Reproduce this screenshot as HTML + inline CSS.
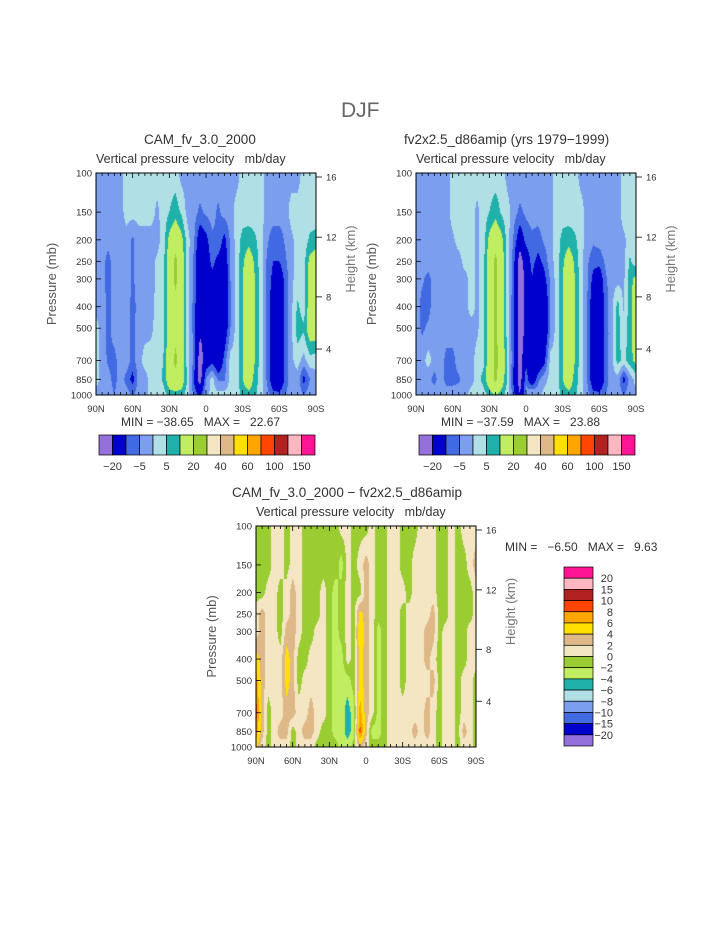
<!DOCTYPE html>
<html><head><meta charset="utf-8">
<style>
html,body{margin:0;padding:0;background:#fff;}
#root{position:relative;width:723px;height:935px;overflow:hidden;font-family:"Liberation Sans",sans-serif;color:#333;}
.t{position:absolute;white-space:nowrap;line-height:1;}
canvas{position:absolute;}
svg{position:absolute;left:0;top:0;}
</style></head>
<body>
<div id="root">
<div class="t" style="left:341px;top:100px;font-size:21px;color:#666;">DJF</div>

<div class="t" style="left:144px;top:133px;font-size:13.5px;">CAM_fv_3.0_2000</div>
<div class="t" style="left:96px;top:153px;font-size:12.5px;">Vertical pressure velocity &nbsp;&nbsp;mb/day</div>
<div class="t" style="left:404px;top:133px;font-size:13.5px;">fv2x2.5_d86amip (yrs 1979−1999)</div>
<div class="t" style="left:416px;top:153px;font-size:12.5px;">Vertical pressure velocity &nbsp;&nbsp;mb/day</div>
<div class="t" style="left:121px;top:416px;font-size:12px;">MIN = −38.65 &nbsp;&nbsp;MAX = &nbsp;&nbsp;22.67</div>
<div class="t" style="left:441px;top:416px;font-size:12px;">MIN = −37.59 &nbsp;&nbsp;MAX = &nbsp;&nbsp;23.88</div>
<div class="t" style="left:232px;top:486px;font-size:13.5px;">CAM_fv_3.0_2000 − fv2x2.5_d86amip</div>
<div class="t" style="left:256px;top:506px;font-size:12.5px;">Vertical pressure velocity &nbsp;&nbsp;mb/day</div>
<div class="t" style="left:505px;top:541px;font-size:12px;">MIN = &nbsp;&nbsp;−6.50 &nbsp;&nbsp;MAX = &nbsp;&nbsp;9.63</div>

<canvas id="c1" width="220" height="222" style="left:96px;top:173px;"></canvas>
<canvas id="c2" width="220" height="222" style="left:416px;top:173px;"></canvas>
<canvas id="c3" width="220" height="221" style="left:256px;top:526px;"></canvas>
<svg id="ov" width="723" height="935"></svg>
</div>
<script>
const levels=[100,150,200,250,300,400,500,700,850,1000];
const latLabels=["90N","60N","30N","0","30S","60S","90S"];
const pTicks=[100,150,200,250,300,400,500,700,850,1000];
const hTicks=[16,12,8,4];
const cbColors=["#9370DB","#0000CD","#4169E1","#7B9EEE","#B0E0E6","#20B2AA","#C0EE60","#9ACD32","#F5E6C3","#DEB887","#FFE000","#FFA500","#FF4500","#B22222","#FFB6C1","#FF1493"];
const bnd1=[-20,-10,-5,0,5,10,20,30,40,50,60,80,100,120,150];
const cb1Labels=["−20","−5","5","20","40","60","100","150"];
const bnd3=[-20,-15,-10,-8,-6,-4,-2,0,2,4,6,8,10,15,20];
const cb3Labels=["20","15","10","8","6","4","2","0","−2","−4","−6","−8","−10","−15","−20"];

const p1=[
[-2,-2,-2,-2,-2,2,2,2,2,2,2,2,2,2,-2,-2,-2,-2,-2,-2,-2,-2,-2,-2,2,2,2,2,-2,-2,-2,-2,-2,-2,2,2,2],
[-2,-2,-2,-2,-2,2,2,2,2,2,-1,2,5,8,4,-2,-3,-6,-4,-3,-6,-3,-2,2,2,2,2,2,-2,-2,-2,-2,2,2,2,2,2],
[-2,-2,-3,-2,-2,-2,-6,-2,-2,-2,-2,2,12,16,12,2,-4,-15,-12,-6,-6,-12,-4,2,7,8,6,2,-4,-8,-8,-4,-1,2,2,6,7],
[-2,-3,-7,-2,-2,-2,-6,-2,-2,-2,1,3,15,22,15,2,-6,-18,-15,-8,-12,-15,-5,2,9,14,9,2,-6,-10,-10,-6,-1,2,3,12,14],
[-2,-3,-7,-2,-2,-2,-6,-2,-2,-2,1,3,15,22,15,2,-6,-18,-18,-12,-18,-18,-5,2,10,15,10,2,-6,-12,-15,-8,-1,2,3,14,15],
[-2,-2,-7,-2,-2,-2,-7,-3,-2,-2,2,3,15,17,15,2,-7,-18,-19,-18,-18,-16,-6,2,10,15,10,2,-6,-15,-18,-8,-1,6,2,15,15],
[2,-2,-7,-2,-1,-2,-7,-2,-2,-1,2,3,15,17,15,2,-7,-18,-18,-19,-18,-16,-5,2,10,15,10,2,-6,-15,-18,-8,-1,8,6,15,15],
[2,-2,-6,-7,-2,-2,-7,-2,2,2,2,5,15,22,15,2,-6,-25,-15,-12,-18,-8,2,2,10,15,10,2,-6,-15,-18,-8,-1,2,-2,3,2],
[2,-2,-3,-7,-2,-7,-12,-3,-2,2,2,6,15,17,15,4,-10,-25,-5,2,-6,-6,2,2,10,15,8,2,-6,-15,-18,-8,-2,-2,-12,-5,-2],
[-2,-2,-2,-5,-2,-2,-6,-2,-2,2,2,2,7,8,7,2,-6,-12,-2,2,2,2,2,2,7,8,6,2,-3,-8,-8,-5,-2,-2,-5,-2,-2]];

const p2=[
[-2,-2,-2,-2,-2,-2,2,2,2,2,2,2,2,2,2,-2,-2,-2,-2,-2,-2,-2,-2,2,2,2,2,-2,-2,-2,-2,-2,-2,-2,2,2,2],
[-2,-2,-2,-2,-2,-2,2,2,2,2,-1,2,5,8,4,2,-3,-6,-4,-3,-3,-2,-2,2,2,2,2,2,-2,-2,-2,-2,-2,-2,2,2,2],
[-2,-2,-2,-2,-2,-2,-1,2,2,2,-1,2,12,16,12,2,-6,-15,-8,-6,-7,-4,-2,2,7,8,6,2,-2,-4,-3,-2,-2,-2,-1,2,2],
[-2,-2,-2,-2,-2,-2,-2,-2,2,2,-1,3,15,22,15,2,-8,-25,-15,-8,-12,-8,-2,2,9,14,9,2,-4,-8,-8,-4,-2,-2,-2,6,2],
[-2,-4,-7,-2,-2,-2,-2,-2,-2,2,-1,3,15,22,15,2,-8,-25,-18,-10,-18,-12,-4,2,10,15,10,2,-4,-12,-15,-6,-2,-2,-1,8,12],
[-2,-7,-7,-2,-2,-2,-2,-2,-2,2,-1,3,15,22,15,2,-10,-25,-18,-19,-19,-18,-5,2,10,15,10,2,-5,-15,-18,-8,-2,7,-1,8,15],
[-2,-6,-4,-2,-2,-2,-2,-2,-2,-2,-1,3,15,22,15,2,-10,-25,-18,-19,-19,-18,-5,2,10,15,10,2,-5,-15,-18,-8,-2,7,2,8,15],
[-2,-2,2,-2,-2,-7,-7,-2,-2,-2,2,3,15,22,17,4,-10,-25,-12,-18,-18,-12,2,2,10,15,10,2,-5,-15,-18,-8,-2,7,3,8,12],
[-2,-2,-3,-7,-2,-7,-7,-6,-2,-2,2,7,15,22,15,4,-12,-25,-6,-18,-6,-2,2,2,10,15,8,2,-5,-15,-18,-8,-2,-2,-12,-3,2],
[-2,-2,-2,-2,-2,-2,-2,-2,-2,2,2,2,7,10,7,2,-8,-20,-3,2,-2,2,2,2,7,8,6,2,-3,-8,-8,-5,-2,-2,-5,-2,-2]];

const p3=[
[-1,-1,-1,1,1,-1,1,1,-1,-1,-1,-1,-1,-1,1,1,-1,-1,-1,1,-1,-1,1,1,-1,-1,-1,1,1,1,-1,-1,1,-1,1,1,1],
[-1,-1,-1,1,1,-1,1,1,-1,-1,-1,-1,-1,-1,-3,1,-1,1,3,1,-1,-1,1,1,-1,-1,1,1,1,1,-1,-1,1,-1,-1,1,3],
[-1,-1,1,1,-1,1,3,1,-1,-1,-1,1,-1,-3,-1,1,-1,-1,3,1,-1,-1,1,1,1,-1,1,1,1,1,-1,-1,1,-1,-1,-1,1],
[1,3,1,1,-1,1,3,1,-1,-1,-1,1,-1,-3,-1,1,-1,5,3,1,-1,-1,1,1,-1,1,1,1,1,3,-1,-1,1,-1,-1,-1,1],
[1,3,1,1,-1,3,3,1,-1,-1,1,1,-1,-3,-1,1,-1,6,3,1,-3,-1,1,1,-1,1,1,1,3,3,-1,1,1,-1,-1,1,1],
[5,3,1,1,1,5,3,-1,-1,1,1,1,-1,-3,-3,1,-1,5,3,1,-3,-1,1,1,-1,1,1,1,3,1,-1,1,1,-1,-1,1,1],
[7,3,1,1,1,5,3,-1,1,1,1,1,-1,-3,-3,-3,-1,5,3,1,-3,-1,1,1,-1,1,1,1,1,3,-1,1,1,-1,1,1,-1],
[9,3,-1,1,1,3,3,1,1,3,1,1,-1,-3,-3,-5,-3,7,3,1,-3,-1,1,1,1,1,1,1,3,1,-1,1,1,-1,1,1,-1],
[7,3,-1,1,3,3,-1,1,3,3,1,-1,-1,-3,-3,-5,-3,9,3,-3,-3,-1,1,1,1,1,3,1,3,1,-1,1,1,-1,3,1,-1],
[5,1,-1,1,1,1,-1,1,1,1,-1,-1,-1,-1,-3,-3,-1,3,1,-1,-1,-1,1,1,1,1,1,1,1,1,-1,1,1,-1,1,1,-1]];

function hex(c){return [parseInt(c.substr(1,2),16),parseInt(c.substr(3,2),16),parseInt(c.substr(5,2),16)];}
const rgb=cbColors.map(hex);
const lg=levels.map(p=>Math.log10(p));
function classOf(v,b){let k=0;while(k<b.length&&v>=b[k])k++;return k;}
function drawField(id,grid,bnd){
  const cv=document.getElementById(id),ctx=cv.getContext('2d');
  const w=cv.width,h=cv.height,img=ctx.createImageData(w,h);
  const nx=grid[0].length;
  for(let y=0;y<h;y++){
    const lp=2+(y+0.5)/h;
    let j=0;while(j<lg.length-2&&lp>lg[j+1])j++;
    const fy=Math.min(1,Math.max(0,(lp-lg[j])/(lg[j+1]-lg[j])));
    for(let x=0;x<w;x++){
      const fx=(x+0.5)/w*(nx-1);let i=Math.min(nx-2,Math.floor(fx));const tx=fx-i;
      const a=grid[j][i]*(1-tx)+grid[j][i+1]*tx,b=grid[j+1][i]*(1-tx)+grid[j+1][i+1]*tx;
      const v=a*(1-fy)+b*fy;const c=rgb[classOf(v,bnd)];const o=(y*w+x)*4;
      img.data[o]=c[0];img.data[o+1]=c[1];img.data[o+2]=c[2];img.data[o+3]=255;
    }
  }
  ctx.putImageData(img,0,0);
}
drawField('c1',p1,bnd1);drawField('c2',p2,bnd1);drawField('c3',p3,bnd3);

const NS='http://www.w3.org/2000/svg',ov=document.getElementById('ov');
function mk(tag,attrs,txt){const e=document.createElementNS(NS,tag);for(const k in attrs)e.setAttribute(k,attrs[k]);if(txt!==undefined)e.textContent=txt;ov.appendChild(e);return e;}
// height (km) -> fraction of axis, piecewise through standard atmosphere positions
const hKm=[16,12,8,4];
const hFrac=[0.018,0.289,0.558,0.793];
function hToFrac(hk){const k=hKm.indexOf(hk);return hFrac[k];}
function axes(px,py,w,h,tag){
  const r=mk('rect',{x:px,y:py,width:w,height:h,fill:'none',stroke:'#000','stroke-width':1});
  
  for(let d=0;d<=180;d+=5){const x=px+d/180*w,len=d%30===0?5:3;
    mk('line',{x1:x,y1:py+h,x2:x,y2:py+h-len,stroke:'#000','stroke-width':0.8});
    mk('line',{x1:x,y1:py,x2:x,y2:py+len,stroke:'#000','stroke-width':0.8});}
  latLabels.forEach((s,k)=>{const t=mk('text',{x:px+k*w/6,y:py+h+17,'font-size':9.5,'text-anchor':'middle',fill:'#333','font-family':'Liberation Sans'},s);
    });
  pTicks.forEach(p=>{const y=py+(Math.log10(p)-2)*h;
    mk('line',{x1:px,y1:y,x2:px+5,y2:y,stroke:'#000','stroke-width':0.8});
    const t=mk('text',{x:px-4,y:y+3.5,'font-size':9.5,'text-anchor':'end',fill:'#333','font-family':'Liberation Sans'},String(p));
    });
  hTicks.forEach(hk=>{const y=py+hToFrac(hk)*h;
    mk('line',{x1:px+w,y1:y,x2:px+w+6,y2:y,stroke:'#000','stroke-width':0.8});
    const t=mk('text',{x:px+w+10,y:y+3.5,'font-size':9.5,fill:'#333','font-family':'Liberation Sans'},String(hk));
    });
  const yt=mk('text',{x:0,y:0,'font-size':13,fill:'#555','text-anchor':'middle','font-family':'Liberation Sans',transform:`translate(${px-40},${py+h/2}) rotate(-90)`},'Pressure (mb)');
  
  const ht=mk('text',{x:0,y:0,'font-size':13,fill:'#777','text-anchor':'middle','font-family':'Liberation Sans',transform:`translate(${px+w+39},${py+h/2-25}) rotate(-90)`},'Height (km)');
  
}
axes(96,173,220,222,'panel1');axes(416,173,220,222,'panel2');axes(256,526,220,221,'panel3');

function hbar(x0,y0,tag){const bw=13.5;
  cbColors.forEach((c,k)=>{const r=mk('rect',{x:x0+k*bw,y:y0,width:bw,height:20,fill:c,stroke:'#000','stroke-width':0.7});
    });
  cb1Labels.forEach((s,k)=>{const t=mk('text',{x:x0+(2*k+1)*bw,y:y0+35,'font-size':11,'text-anchor':'middle',fill:'#333','font-family':'Liberation Sans'},s);
    });
}
hbar(99,435,'colorbar1');hbar(419,435,'colorbar2');
(function(){const x0=564,y0=567,bh=179/16;
  cbColors.slice().reverse().forEach((c,k)=>{const r=mk('rect',{x:x0,y:y0+k*bh,width:29,height:bh,fill:c,stroke:'#000','stroke-width':0.7});
    });
  cb3Labels.forEach((s,k)=>{const t=mk('text',{x:613,y:y0+(k+1)*bh+4,'font-size':11,'text-anchor':'end',fill:'#333','font-family':'Liberation Sans'},s);
    });
})();
</script>
</body></html>
